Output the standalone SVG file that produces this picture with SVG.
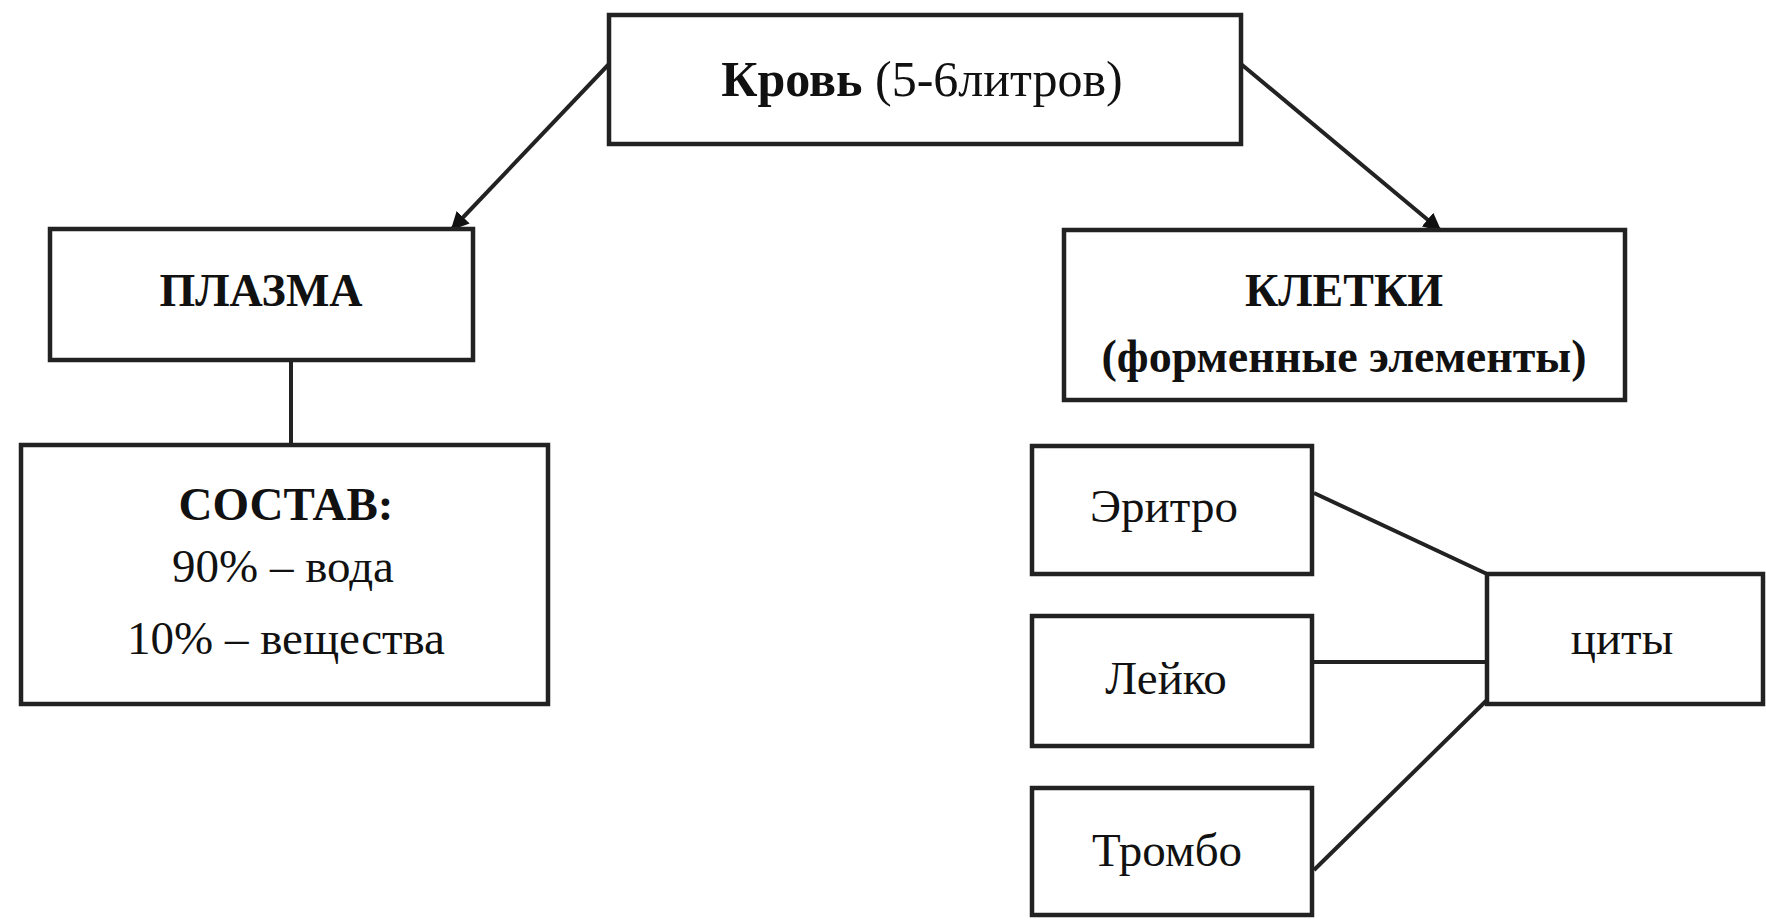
<svg xmlns="http://www.w3.org/2000/svg" width="1766" height="920" viewBox="0 0 1766 920">
<defs>
<style>
.box{fill:#fff;stroke:#222;stroke-width:4.5}
.t{font-family:"Liberation Serif","Times New Roman",serif;fill:#111;text-anchor:middle}
.b{font-weight:bold}
.ln{stroke:#222;stroke-width:4;fill:none}
</style>
<marker id="arr" viewBox="0 0 10 10" refX="9" refY="5" markerWidth="4.5" markerHeight="4.5" orient="auto" markerUnits="strokeWidth">
<path d="M0,0 L10,5 L0,10 z" fill="#111"/>
</marker>
</defs>
<rect width="1766" height="920" fill="#fff"/>
<g id="connectors">
<line class="ln" x1="609" y1="64" x2="452" y2="229" marker-end="url(#arr)"/>
<line class="ln" x1="1241" y1="64" x2="1440" y2="230" marker-end="url(#arr)"/>
<line class="ln" x1="291" y1="360" x2="291" y2="445"/>
<line class="ln" x1="1314" y1="493" x2="1487" y2="574"/>
<line class="ln" x1="1314" y1="662" x2="1487" y2="662" stroke-width="5"/>
<line class="ln" x1="1314" y1="870" x2="1487" y2="700"/>
</g>
<g id="blood">
<rect class="box" x="609" y="15" width="632" height="129"/>
<text class="t" x="922" y="96" font-size="50"><tspan class="b">Кровь</tspan> (5-6литров)</text>
</g>
<g id="plasma">
<rect class="box" x="50" y="229" width="423" height="131"/>
<text class="t b" x="261" y="306" font-size="46">ПЛАЗМА</text>
</g>
<g id="composition">
<rect class="box" x="21" y="445" width="527" height="259"/>
<text class="t b" x="286" y="520" font-size="47">СОСТАВ:</text>
<text class="t" x="283" y="582" font-size="47">90% – вода</text>
<text class="t" x="286" y="654" font-size="47">10% – вещества</text>
</g>
<g id="cells">
<rect class="box" x="1064" y="230" width="561" height="170"/>
<text class="t b" x="1344" y="306" font-size="46">КЛЕТКИ</text>
<text class="t b" x="1344" y="372" font-size="46">(форменные элементы)</text>
</g>
<g id="erythro">
<rect class="box" x="1032" y="446" width="280" height="128"/>
<text class="t" x="1164" y="522" font-size="47">Эритро</text>
</g>
<g id="leuko">
<rect class="box" x="1032" y="616" width="280" height="130"/>
<text class="t" x="1166" y="694" font-size="47">Лейко</text>
</g>
<g id="thrombo">
<rect class="box" x="1032" y="788" width="280" height="127"/>
<text class="t" x="1167" y="866" font-size="47">Тромбо</text>
</g>
<g id="cytes">
<rect class="box" x="1487" y="574" width="276" height="130"/>
<text class="t" x="1622" y="654" font-size="47">циты</text>
</g>
</svg>
